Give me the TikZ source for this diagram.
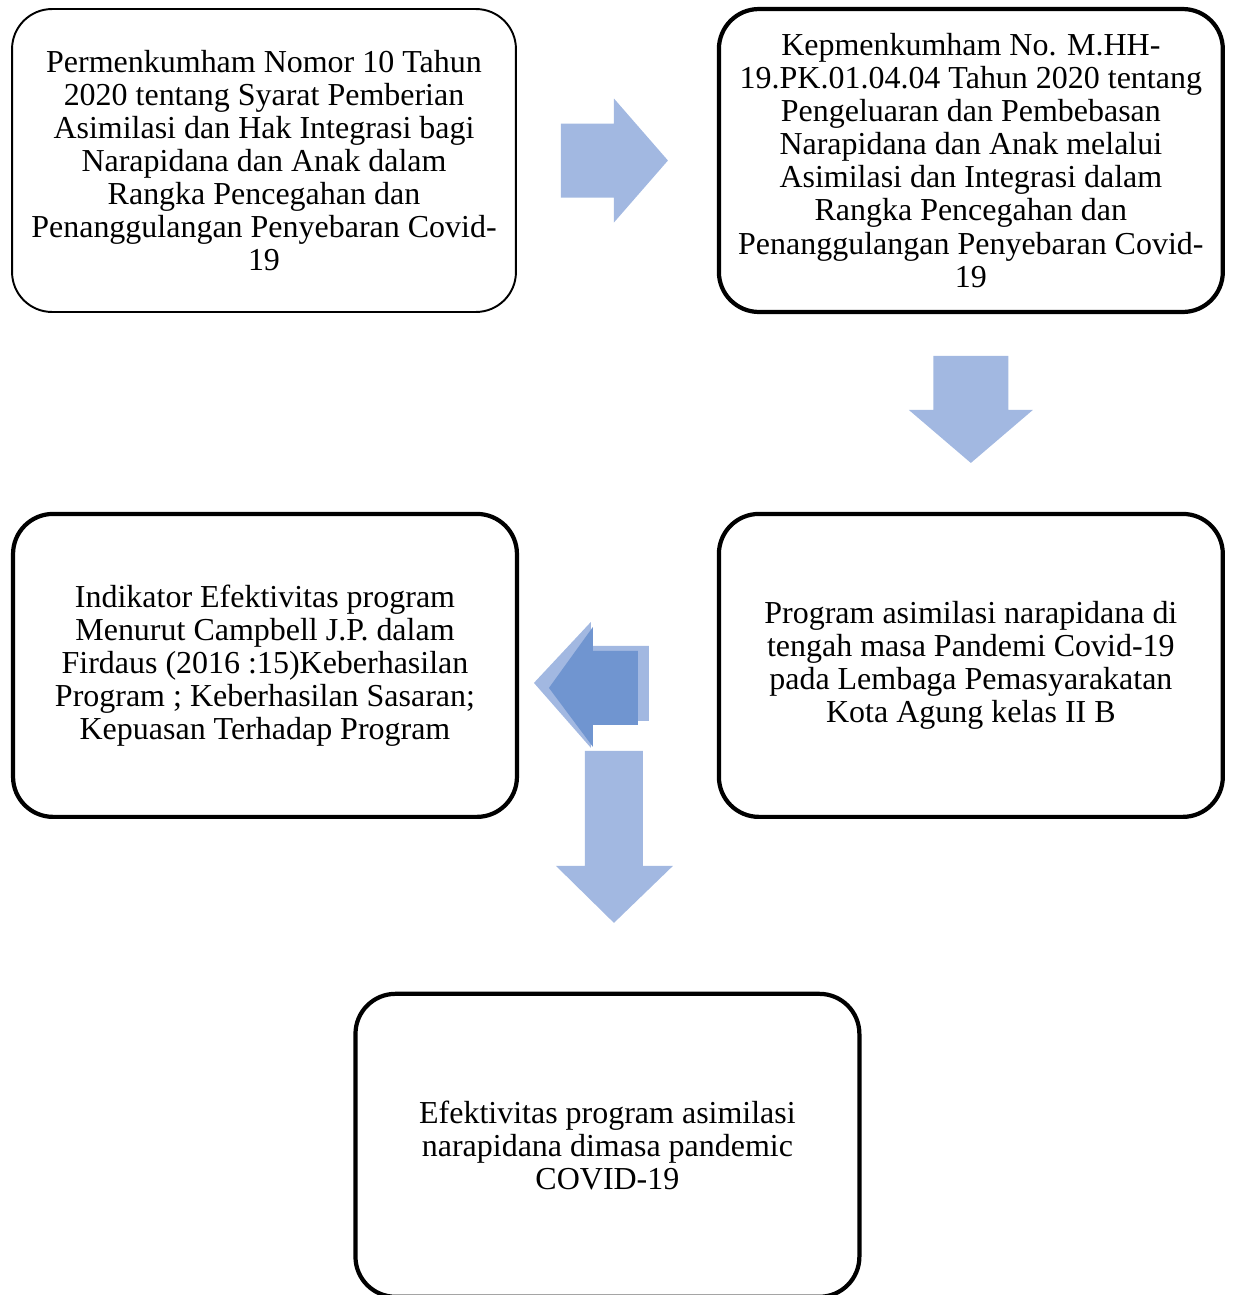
\documentclass[tikz,border=0pt]{standalone}
\usepackage{fontspec}
\setmainfont{Liberation Serif}
\usetikzlibrary{positioning, calc}

\definecolor{arrowblue}{RGB}{162,184,225}
\definecolor{arrowdark}{RGB}{112,149,208}

\begin{document}
\begin{tikzpicture}[
  x=0.02cm, y=-0.02cm, % 1 unit = 1 px of the layout, y pointing down
  box/.style={draw, rounded corners=0.8cm, minimum width=10.08cm, minimum height=6.06cm, inner sep=0pt, outer sep=0pt, align=center, font=\fontsize{18.2}{18.8}\selectfont},
  thinbox/.style={box, line width=1.1pt},
  thickbox/.style={box, line width=2.4pt},
  blockarrow/.style={fill=arrowblue},
  blockdark/.style={fill=arrowdark}
]
\useasboundingbox (0,0) rectangle (1233,1295);

\node[thinbox] (Perm) at (264,160.5) {Permenkumham Nomor 10 Tahun\\2020 tentang Syarat Pemberian\\Asimilasi dan Hak Integrasi bagi\\Narapidana dan Anak dalam\\Rangka Pencegahan dan\\Penanggulangan Penyebaran Covid-\\19};
\node[thickbox] (Kep) [right=4.06cm of Perm] {Kepmenkumham No. M.HH-\\19.PK.01.04.04 Tahun 2020 tentang\\Pengeluaran dan Pembebasan\\Narapidana dan Anak melalui\\Asimilasi dan Integrasi dalam\\Rangka Pencegahan dan\\Penanggulangan Penyebaran Covid-\\19};
\node[thickbox] (Prog) [below=4.04cm of Kep] {Program asimilasi narapidana di\\tengah masa Pandemi Covid-19\\pada Lembaga Pemasyarakatan\\Kota Agung kelas II B};
\node[thickbox] (Ind) [left=4.04cm of Prog] {Indikator Efektivitas program\\Menurut Campbell J.P. dalam\\Firdaus (2016 :15)Keberhasilan\\Program ; Keberhasilan Sasaran;\\Kepuasan Terhadap Program};
\node[thickbox] (Efek) [below=3.54cm of Ind, xshift=6.85cm] {Efektivitas program asimilasi\\narapidana dimasa pandemic\\COVID-19};

\coordinate (PermKep) at ($(Perm.east)!0.5!(Kep.west)$);
\coordinate (KepProg) at ($(Kep.south)!0.5!(Prog.north)$);

\fill[blockarrow, shift={(PermKep)}] (-56.5,-37) -- (-3.5,-37) -- (-3.5,-62) -- (50.5,0) -- (-3.5,62) -- (-3.5,37) -- (-56.5,37) -- cycle;
\fill[blockarrow, shift={(KepProg)}] (-37.5,-57) -- (37.5,-57) -- (37.5,-3) -- (62,-3) -- (0,50) -- (-62,-3) -- (-37.5,-3) -- cycle;

\fill[blockarrow, shift={(Ind.south east)}] (68,-66) -- (126,-66) -- (126,49) -- (156,49) -- (97,106) -- (39,49) -- (68,49) -- cycle;
\fill[blockarrow, shift={(Ind.east)}] (132,-19.5) -- (74,-19.5) -- (74,-43.5) -- (17,17.5) -- (74,82.5) -- (74,55.5) -- (132,55.5) -- cycle;
\fill[blockdark, shift={(Ind.east)}] (121,-14.5) -- (76,-14.5) -- (76,-38.5) -- (32,22.5) -- (76,81.5) -- (76,59.5) -- (121,59.5) -- cycle;
\end{tikzpicture}
\end{document}
